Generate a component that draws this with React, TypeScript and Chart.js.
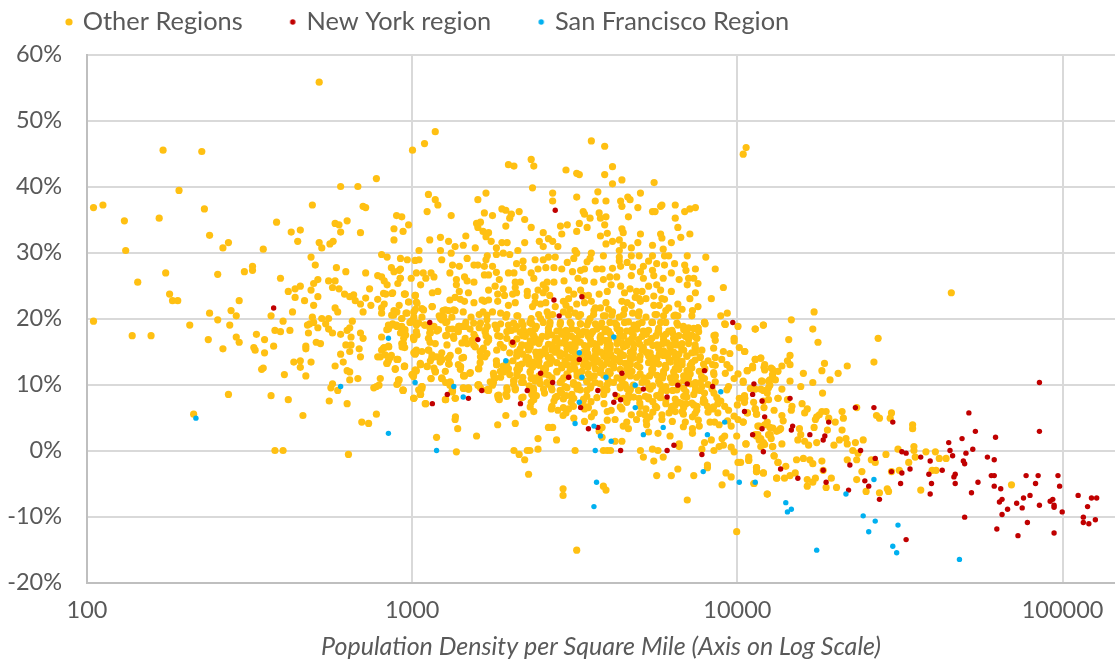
import React, { useEffect, useRef } from "react";
import { Chart, registerables } from "chart.js";

Chart.register(...registerables);

// every pair: [log10 of population density per square mile, percent change]
const otherRegions: number[][] = [
[2.714,55.8],[2.234,45.5],[2.353,45.3],[2.283,39.4],[2.02,36.8],[2.049,37.2],[2.115,34.8],[2.222,35.2],[2.361,36.6],[2.119,30.3],[2.377,32.6],[2.418,30.7],[2.435,31.5],[2.542,30.5],[2.583,34.6],[2.628,33.1],[2.656,33.4],[2.648,31.7],[2.693,37.2],[2.78,40],[2.833,40],[2.89,41.2],[2.849,37],[2.857,36.8],[2.952,35.6],[2.763,34.4],[2.775,34.2],[2.8,34.8],[2.78,33.1],[2.841,33],[2.944,33.6],[2.944,31.9],[2.714,31.5],[2.722,30.7],[2.747,31.3],[2.757,31.7],[2.689,29.3],[2.702,28.1],[2.906,29.7],[2.923,29.3],[2.964,29.1],[2.156,25.5],[2.242,26.9],[2.254,23.7],[2.263,22.7],[2.279,22.7],[2.402,26.7],[2.484,27.1],[2.509,27.9],[2.509,27.3],[2.595,26.1],[2.468,22.7],[2.619,24.1],[2.64,24.5],[2.656,24.9],[2.64,23.2],[2.669,22.7],[2.689,24.3],[2.697,25.3],[2.71,25.9],[2.71,23.3],[2.743,25.7],[2.763,25.7],[2.755,24.7],[2.775,24.5],[2.767,27.7],[2.796,27.1],[2.792,23.7],[2.808,23.3],[2.82,23.6],[2.857,26.9],[2.869,24.5],[2.857,23.1],[2.894,26.5],[2.906,26.3],[2.914,25.7],[2.923,25.1],[2.894,22.9],[2.919,23.7],[2.94,23.9],[2.936,27.7],[2.944,27.1],[2.96,27.3],[2.956,25.3],[2.963,26.1],
[2.02,19.6],[2.139,17.4],[2.197,17.4],[2.316,19],[2.377,20.8],[2.402,19.8],[2.443,21.2],[2.459,20.4],[2.439,19],[2.373,16.8],[2.459,17.2],[2.468,16.4],[2.418,15.4],[2.513,15.6],[2.517,15.2],[2.521,17.6],[2.546,16.8],[2.546,14.8],[2.537,12.3],[2.542,12.5],[2.566,20.4],[2.603,19.6],[2.578,18.2],[2.595,18],[2.624,18.2],[2.632,21],[2.574,15.8],[2.607,11.5],[2.636,13.4],[2.656,13.6],[2.656,12.6],[2.689,13.4],[2.673,11.3],[2.673,15.8],[2.673,15.4],[2.705,16.4],[2.718,16.2],[2.678,19],[2.685,19.2],[2.693,20.2],[2.697,19.4],[2.71,18.6],[2.681,17.8],[2.697,22],[2.763,21.6],[2.771,21],[2.722,20],[2.743,20],[2.734,19.2],[2.743,18.4],[2.755,17.8],[2.78,17.6],[2.8,18.2],[2.808,18.6],[2.816,19.6],[2.812,17.2],[2.841,17.8],[2.849,17],[2.796,16],[2.812,16],[2.808,15],[2.78,14.6],[2.788,13.4],[2.763,12.8],[2.8,12.1],[2.808,11.9],[2.808,10.7],[2.833,10.9],[2.837,15.4],[2.841,14.2],[2.902,10.9],[2.882,9.5],[2.89,9.7],[2.898,9.9],[2.755,10.1],[2.75,9.5],[2.771,9.1],[2.435,8.5],[2.566,8.3],[2.619,7.7],[2.745,7.5],[2.8,7.1],[2.664,5.3],[2.845,4.3],[2.866,4.1],[2.89,5.5],[2.328,5.5],[2.578,0],[2.603,0],[2.804,-0.6],
[2.906,17.2],[2.906,15.2],[2.914,15.6],[2.927,15.8],[2.894,14.2],[2.902,14.2],[2.936,14.4],[2.931,14],[2.923,13.2],[2.927,13.6],[2.956,13.8],[2.948,12.3],[2.977,12.8],[2.96,10.7],[2.956,10.1],[2.972,9.1],[3.005,7.9],[2.927,19],[2.927,18.4],[2.94,19.2],[2.952,19],[2.968,18.8],[2.977,18],[2.964,17.8],[2.968,16.2],[2.977,15.6],[3.005,16.8],[3.005,14.8],[3.013,15.2],[3,11.5],[3.013,12.1],[2.944,21.2],[2.937,20.5],[2.96,22],[2.906,20.8],[2.914,22.2],[2.906,21.6],[2.873,22],[2.849,21],[2.841,22.2],[2.825,22.7],[2.968,20],[2.981,20.8],[2.993,19.4],[3.005,21],[2.989,22.5],[2.977,23.7],[3.01,23.5],[3.014,19.3],
[3.071,48.3],[3.038,46.5],[3.001,45.5],[3.551,46.9],[3.592,46.1],[4.027,45.9],[4.018,44.9],[3.366,44.1],[3.374,43.1],[3.296,43.3],[3.313,43.1],[3.473,42.5],[3.506,42],[3.514,41.8],[3.616,43],[3.592,41.8],[3.645,41],[3.616,40.4],[3.744,40.6],[3.37,39.8],[3.432,39],[3.432,37.8],[3.506,38.4],[3.571,39.2],[3.563,37.8],[3.596,37.8],[3.641,37.8],[3.663,38.4],[3.67,38],[3.645,37],[3.702,39],[3.694,36.8],[3.739,36.2],[3.747,36.2],[3.764,37],[3.768,37.2],[3.809,37.2],[3.838,36.2],[3.854,36.6],[3.871,36.8],[3.809,35.2],[3.05,38.8],[3.071,38],[3.079,37.2],[3.046,36.2],[3.227,39],[3.202,38],[3.12,35.6],[3.222,36],[3.247,35.6],[3.276,36.6],[3.288,36.4],[3.329,36.2],[3.305,35.8],[3.3,35.2],[3.346,35],[2.989,34.2],[2.968,35.4],[2.972,33.2],[3.198,34.4],[3.21,34.6],[3.202,33.8],[3.218,33.2],[3.235,33],[3.227,32.4],[3.288,34],[3.366,33.8],[3.403,33],[3.456,34],[3.477,34.2],[3.46,32.8],[3.514,34.4],[3.538,33.8],[3.506,33.2],[3.526,36.2],[3.53,35.8],[3.547,35.2],[3.575,36],[3.579,35.2],[3.596,35.4],[3.592,34.2],[3.665,35.4],[3.645,33.6],[3.649,33],[3.702,32.8],[3.764,32.8],[3.768,32.2],[3.817,33.8],[3.826,32.3],[3.854,32.8],[3.797,31.5],[3.087,32.3],[3.112,31.7],[3.054,31.9],[3.165,32.5],[3.132,30.9],[3.157,31.1],[3.194,30.7],[3.243,31.7],[3.021,30.3],[3.087,30.3],[3.12,29.9],[3.276,31.5],[3.292,31.5],[3.259,30.7],[3.346,31.5],[3.391,31.7],[3.419,32.1],[3.432,31.7],[3.403,30.9],[3.448,30.9],[3.579,32.5],[3.6,32.9],[3.596,31.3],[3.616,31.7],[3.637,31.9],[3.649,31.1],[3.694,31.5],[3.739,31.1],[3.772,30.5],[3.674,30.7],[3.501,30.3],[3.551,29.9],[3.637,30.3],[3.259,29.7],[3.28,29.9],[3.325,30.3],[3.3,29.7],[3.231,29.5],[3.169,29.1],[3.091,28.9],[2.985,28.9],[3.009,28.8],[3.021,28.9],[3.378,28.9],[3.403,28.9],[3.419,29.3],[3.44,29.3],[3.506,29.9],[3.497,29.1],[3.588,29.5],[3.547,29.1],[3.538,28.6],[3.477,28.5],[3.637,29.3],[3.674,29.5],[3.698,29.5],[3.739,29.5],[3.776,29.5],[3.789,29.5],[3.846,29.5],[3.903,29.3],[3.727,28.7],[3.752,28.3],[3.807,28.3],[3.838,28.1],[3.776,28.1],[3.637,28.7],[3.932,27.5],[3.871,27.5],[3.842,27.3],[3.797,26.9],[3.739,27.3],[3.711,27.9],[3.702,27.1],[3.678,27.8],[3.661,28.5],[3.641,27.9],[3.616,27.6],[3.584,27.5],[3.567,27.5],[3.53,27.5],[3.518,27.3],[3.493,27.1],[3.46,27.5],[3.436,27.7],[3.411,27.7],[3.387,27.5],[3.341,28.7],[3.321,28.3],[3.341,27.7],[3.247,27.9],[3.222,27.9],[3.202,28.1],[3.19,28.1],[3.145,27.9],[3.124,28.1],[3.227,28.9],[3.116,26.9],[3.058,26.9],[3.034,26.9],[3.013,26.9],[2.997,26.1],[3.042,26.1],[3.067,26.3],[2.964,27.5],
[3.161,26.3],[3.19,25.5],[3.136,25.9],[3.169,25.7],[3.222,26.6],[3.235,26.6],[3.259,27],[3.268,25.9],[3.296,26.9],[3.313,26.9],[3.366,26.9],[3.374,26.1],[3.317,25.5],[3.333,25.5],[3.026,25.1],[3.136,25.1],[2.964,26.1],[3.588,25.9],[3.608,26.3],[3.629,26.3],[3.674,26.5],[3.711,26.1],[3.743,26.5],[3.772,26.1],[3.821,25.9],[3.85,26.1],[3.866,26.1],[3.879,25.3],[3.846,25.1],[3.559,25.5],[3.51,26.1],[3.53,25.7],[3.415,25.5],[3.436,25.5],[3.467,25.7],[3.403,25.1],[2.976,23.7],[3.062,23.9],[3.079,24.1],[3.145,24.1],[3.173,23.9],[3.235,24.3],[3.255,24.9],[3.28,24.5],[3.317,24.7],[3.354,24.1],[3.387,24.3],[3.411,24.5],[3.481,24.3],[3.518,24.3],[3.575,23.7],[3.6,24.1],[3.612,25.1],[3.641,24.9],[3.653,23.9],[3.67,24.5],[3.69,24.1],[3.707,24.1],[3.727,24.9],[3.752,25.1],[3.764,24.3],[3.797,24.1],[3.871,23.9],[3.957,24.7],[3.92,23],[3.854,23],[3.768,23],[3.743,23.4],[3.698,23],
[3.009,23.5],[3.013,22.5],[2.989,22.5],[3.03,21.5],[3.062,21.8],[3.116,22.8],[3.132,23.2],[3.161,22.6],[3.19,22.4],[3.222,22.6],[3.235,22.8],[3.263,23.7],[3.263,22.6],[3.284,23.5],[3.309,23.7],[3.321,23.9],[3.296,22],[3.317,22.4],[3.354,23.5],[3.378,23.3],[3.378,22.4],[3.37,21.8],[3.403,23.9],[3.423,23.5],[3.395,22.2],[3.411,22.4],[3.44,21.8],[3.465,22.6],[3.481,23],[3.497,23.7],[3.506,22.2],[3.473,22],[3.485,21.4],[3.526,23.5],[3.542,23.5],[3.551,22.6],[3.53,22.4],[3.596,22.4],[3.563,21.6],[3.579,21.6],[3.604,21.4],[3.645,22.6],[3.661,22.4],[3.674,22],[3.653,21.4],[3.686,23.2],[3.702,22.6],[3.719,23],[3.743,22],[3.76,22],[3.789,21.6],[3.776,22.9],[3.817,22.2],[3.83,21.4],[3.862,21.2],[3.879,21.8],[3.949,20.4],[3.969,20.8],[3.961,19.2],[3.899,19.4],[3.879,18.6],[4.002,18.8],[4.055,18.4],[4.08,19],
[3.095,21.2],[3.112,21.2],[3.132,21.2],[3.157,21],[3.181,20.2],[3.206,20.6],[3.218,21],[3.247,21],[3.272,20.8],[3.288,20.2],[3.325,20.4],[3.366,20],[3.395,20],[3.415,21],[3.432,20.6],[3.465,21],[3.501,20.8],[3.518,20.6],[3.547,20],[3.559,21.2],[3.588,20.4],[3.616,21],[3.637,20.2],[3.678,20.8],[3.698,21],[3.719,20.2],[3.752,20.6],[3.78,21.2],[3.805,20.4],[3.817,20.4],[3.083,20.4],[3.03,20.2],[3.005,20.2],[2.997,19.6],[2.968,20],[3.091,19.8],[3.103,19.4],[3.038,19],[3.013,19],[3.067,18.8],[3.145,18.8],[3.124,18.4],[3.165,19.4],[3.206,18.6],[3.231,18.8],[3.255,19],[3.272,19.2],[3.296,19],[3.321,18.8],[3.341,19],[3.362,19.4],[3.382,18.8],[3.403,19.4],[3.423,19],[3.456,19.4],[3.489,19.2],[3.518,19.2],[3.538,19],[3.563,19.2],[3.579,18.8],[3.608,19.4],[3.629,19],[3.653,19.4],[3.682,19],[3.707,19.4],[3.739,19.4],[3.764,19.4],[3.78,19.4],[3.817,19],[3.834,18.8],[3.85,18.6],[2.98,17.5],[3.013,18],[3.054,17.8],[3.103,17.4],[3.14,18.2],[3.155,18.8],[3.19,17.6],[3.227,17.4],[3.263,17.4],[3.305,18.2],[3.35,17.8],[3.374,17.4],[3.419,18],[3.473,18.2],[3.514,17.8],[3.555,18],[3.596,18.4],[3.637,18],[3.674,18.2],[3.715,18],[3.756,18],[3.801,17.8],[3.842,17.4],[3.871,17.2],[3.932,17.5],[3.99,17],
[2.976,12.7],[3.009,14.6],[3.026,13],[3.046,12.7],[3.005,11.6],[3.058,10.9],[3.091,10.9],[3.071,11.9],[3.103,10.3],[3.116,9.9],[3.149,12.7],[3.161,11.3],[3.177,11.7],[3.204,12.4],[3.114,13.1],[3.112,14],[3.087,13.8],[3.153,14],[3.06,14],[2.972,9.1],[3.005,7.9],[3.026,8.5],[3.03,9.7],[3.124,8.9],[3.103,7.7],[3.132,7.9],[3.042,7.1],[3.157,9.5],[3.173,9.3],[3.202,9.9],[3.235,9.1],[3.247,9.9],[3.21,9.5],[3.292,9.1],[3.263,8.3],[3.268,7.7],[3.288,8.5],[3.317,9.3],[3.341,8.1],[3.366,7.3],[3.374,7.7],[3.382,8.3],[3.407,8.7],[3.428,9.5],[3.251,11.3],[3.272,11.1],[3.259,13.6],[3.28,12.8],[3.296,12.4],[3.3,11.5],[3.325,12.1],[3.313,10.5],[3.337,10.3],[3.366,10.9],[3.391,10.7],[3.067,12.5],[3.132,4.7],[3.14,3.3],[3.075,2],[3.198,2.2],[3.136,-0.2],[3.288,5.3],[3.263,3.9],[3.317,4.1],[3.341,5.5],[3.374,5.9],[3.428,6.3],[3.448,6.1],[3.419,3.5],[3.432,3.5],[3.387,1.8],[3.444,1.6],[3.313,0],[3.329,-0.6],[3.354,0],[3.362,0],[3.387,0.2],[3.346,-1.4],[3.358,-3.6],[3.464,-5.8],[3.464,-6.8],[3.501,0],[3.506,-15.1],[3.998,-12.3],
[3.436,7.5],[3.444,8.1],[3.46,8.7],[3.473,8.3],[3.489,7.3],[3.497,7.9],[3.464,5.3],[3.473,5.7],[3.481,6.3],[3.497,4.9],[3.526,7.5],[3.53,6.3],[3.542,6.5],[3.551,5.1],[3.584,3.5],[3.575,2.9],[3.584,2],[3.624,4.7],[3.612,6.1],[3.649,3.7],[3.665,3.3],[3.674,5.4],[3.69,4.7],[3.624,1.4],[3.645,1.4],[3.588,0],[3.6,0],[3.61,0],[3.588,-5.4],[3.596,-6],[3.702,0],[3.711,-1],[3.739,0.2],[3.756,0],[3.752,-3.8],[3.743,-1.6],[3.772,-1],[3.797,-3.8],[3.817,-2.8],[3.866,-3.8],[3.846,-7.5],[3.793,2.2],[3.756,2.6],[3.727,2.8],[3.721,3.9],[3.821,1],[3.821,0.6],[3.891,0.2],[3.899,1.2],[3.92,1.6],[3.928,0],[3.953,1.8],[3.961,2.2],[3.944,0.6],[3.957,0.8],[3.981,0.5],[3.99,-0.2],[4.027,1],[4.002,-1.8],[3.908,-2.2],[3.908,-2.6],[3.965,-3.4],[3.981,-4],[3.953,-5.2],[4.035,-1],[4.035,-1.4],[4.059,-2.6],[4.059,-3.2],[4.08,-3.4],[4.051,-5],[4.092,-6.6],[4.121,-4.2],[4.113,-0.8],[4.125,-1.8],[4.109,0.6],
[3.665,7.9],[3.645,6.3],[3.698,7.9],[3.719,6.3],[3.748,6.7],[3.715,5.4],[3.731,5.1],[3.768,5.4],[3.768,4.7],[3.809,5.9],[3.84,4.3],[3.834,3.6],[3.862,3.3],[3.862,2.6],[3.883,3.7],[3.916,4.3],[3.944,3.9],[3.981,3.7],[3.998,2.2],[4.002,4.7],[4.018,4.3],[3.973,6.1],[3.949,7.5],[3.961,6.7],[3.924,6.3],[4.006,7.9],[4.031,5.7],[4.023,7.9],[4.055,6.3],[4.059,5.5],[4.067,3.7],[4.082,6.5],[4.092,4.3],[4.109,3.4],[4.125,7.9],[4.096,9.5],[4.08,7.5],[4.055,2.4],[4.067,1.6],[4.084,0.9],[4.129,3.1],[4.101,2.4],[3.809,6.9],[3.83,7.1],[3.842,7.1],[3.866,6.9],[3.895,7.3],[3.908,6.7],[3.875,6.1],[3.862,5.1],[3.834,5.5],[3.797,6.3],[3.78,7.7],[3.752,8.3],[3.727,8.1],[3.768,9.1],[3.801,9.1],[3.842,8.9],[3.871,9.1],[3.891,9.7],[3.899,8.7],[3.928,8.7],[3.973,9.7],[4.018,10.3],[4.074,10.5],[4.096,10.5],[4.109,11.1],[4.031,12.1],[4.047,12.5],[4.084,13],[4.104,12.5],[4.125,12],[4.055,13.8],[4.072,14],[4.002,11.6],[3.977,12.5],[3.952,13.8],[3.924,13],[3.883,12],[3.899,10.9],[3.871,10.3],[3.928,11.5],[3.957,15],[3.977,14.7],[4.006,15.6],[4.023,15],[3.891,15.2],[3.871,15.4],[3.99,16.6],[3.928,17.4],[3.879,18.6],[3.899,19.4],
[4.658,23.9],[4.166,19.8],[4.236,21],[4.055,18.4],[4.08,19],[4.232,18.4],[4.158,16.8],[4.248,16.4],[4.433,17],[4.42,13.4],[4.268,13.2],[4.26,12.1],[4.338,12.8],[4.31,11.7],[4.285,10.7],[4.203,11.7],[4.162,14.4],[4.154,13.6],[4.162,13],[4.137,12.8],[4.055,13.8],[4.072,14],[4.047,12.8],[4.03,12.1],[4.082,12.6],[4.084,12.2],[4.108,12.3],[4.108,11.5],[4.1,10.7],[4.117,10.7],[4.076,10.5],[4.1,9.9],[4.162,10.5],[4.232,10.3],[4.195,9.7],[4.137,9.3],[4.018,10.5],[4.022,15],[4.072,9.3],[4.055,9.3],[4.08,9.1],[4.092,8.7],[4.262,8.7],[4.096,7.7],[4.125,7.9],[4.154,7.7],[4.199,7.1],[4.168,6.7],[4.166,6.1],[4.215,6.3],[4.207,5.7],[4.113,6.1],[4.055,6.3],[4.059,5.5],[4.031,5.7],[4.022,8.3],[4.022,7.3],[4.137,5.3],[4.141,4.5],[4.018,4.3],[4.063,3.7],[4.084,3.9],[4.1,3.5],[4.121,2.9],[4.133,3.3],[4.191,3.3],[4.236,3.5],[4.277,3.1],[4.322,3.1],[4.301,4.3],[4.326,4.9],[4.322,5.9],[4.26,5.9],[4.273,5.9],[4.244,5.1],[4.24,4.7],[4.252,5.4],[4.281,4.9],[4.367,6.5],[4.428,5.3],[4.437,4.9],[4.474,5.7],[4.47,4.9],[4.539,3.9],[4.539,3.3],
[4.063,2.4],[4.096,2.4],[4.104,1.8],[4.026,1],[4.059,2.2],[4.072,1.8],[4.08,1.2],[4.072,0.6],[4.108,0.6],[4.137,1],[4.186,1.6],[4.195,2.4],[4.207,1.4],[4.219,0.8],[4.244,1.2],[4.297,0.8],[4.314,1.6],[4.334,1.8],[4.338,1],[4.363,1.2],[4.387,1.6],[4.355,0],[4.371,-0.4],[4.367,-1.4],[4.338,-1.4],[4.035,-1.5],[4.113,-0.8],[4.125,-1.8],[4.149,-2.4],[4.182,-1.4],[4.203,-1.2],[4.223,-1.4],[4.232,-2],[4.26,-1.6],[4.412,-1.4],[4.424,-1.8],[4.457,-0.6],[4.494,0.2],[4.543,0.6],[4.543,0],[4.547,-1],[4.58,-0.2],[4.609,-0.2],[4.621,-1.2],[4.642,-1.2],[4.527,-1.8],[4.498,-3],[4.474,-3.2],[4.383,-3.2],[4.599,-3],[4.611,-3],[4.564,-6],[4.843,-5.2],[4.059,-2.6],[4.059,-3.2],[4.08,-3.4],[4.051,-5],[4.092,-6.6],[4.121,-4.2],[4.145,-4.2],[4.162,-3.8],[4.178,-3.4],[4.215,-4.4],[4.215,-5.4],[4.232,-4.8],[4.24,-4.2],[4.273,-5.6],[4.289,-4.2],[4.305,-5.6],[4.367,-4.4],[4.396,-6.2],[4.437,-6.4],[4.461,-5.8],[4.465,-6.2],[4.264,-3],[4.01,-1.8],
[2.978,18.3],[3.055,18.5],[3.076,18.1],[3.112,18.4],[3.142,18],[3.178,18.4],[3.225,18.2],[3.26,18.4],[3.291,18],[3.317,18.4],[3.342,18.2],[3.378,18.4],[3.419,18.5],[3.455,18.1],[3.491,18.4],[3.527,18],[3.568,18.4],[3.604,18.1],[3.63,18.5],[3.66,18.1],[3.691,18.4],[3.727,18.2],[3.758,18.5],[3.789,18.1],[3.835,18.3],[3.866,18.5],
[3.004,17.2],[3.05,17],[3.127,17.3],[3.163,17],[3.194,17.2],[3.235,17],[3.271,17.3],[3.291,17],[3.348,17.3],[3.378,17],[3.414,17.3],[3.445,17],[3.476,17.3],[3.507,17],[3.542,17.3],[3.578,17.1],[3.64,17.3],[3.676,17],[3.707,17.3],[3.737,17],[3.773,17.3],[3.804,17],[3.84,17.3],[3.876,17],
[2.973,16.2],[3.055,16.4],[3.107,16],[3.153,16.3],[3.189,16],[3.23,16.4],[3.271,16.1],[3.307,16.3],[3.337,16],[3.373,16.4],[3.419,16.1],[3.455,16.3],[3.486,16],[3.517,16.4],[3.548,16.1],[3.578,16.4],[3.609,16],[3.645,16.3],[3.681,16.1],[3.722,16.4],[3.753,16],[3.784,16.3],[3.814,16],[3.85,16.2],
[3.009,15],[3.05,15.2],[3.091,14.8],[3.142,15.1],[3.209,15],[3.26,15.2],[3.322,14.9],[3.358,15.2],[3.394,14.9],[3.43,15.2],[3.455,14.8],[3.491,15.1],[3.527,14.9],[3.563,15.2],[3.599,14.8],[3.63,15.1],[3.671,14.9],[3.707,15.2],[3.732,14.8],[3.773,15.1],[3.804,14.9],[3.835,15.2],[3.871,14.9],
[3.066,14.2],[3.117,14.4],[3.158,14.1],[3.322,14.3],[3.358,14],[3.394,14.4],[3.425,14.1],[3.455,14.3],[3.486,14],[3.517,14.4],[3.553,14],[3.589,14.3],[3.619,14],[3.65,14.4],[3.681,14],[3.727,14.3],[3.753,14],[3.784,14.4],[3.814,14],[3.845,14.3],[3.886,14.1],
[3.025,13.2],[3.086,13.4],[3.142,13],[3.209,13.3],[3.26,13],[3.291,13.3],[3.337,13.1],[3.373,13.4],[3.414,13],[3.445,13.3],[3.476,13],[3.507,13.4],[3.542,13],[3.578,13.3],[3.609,13.1],[3.64,13.4],[3.671,13],[3.727,13.3],[3.758,13.1],[3.794,13.4],[3.83,13],[3.86,13.3],
[3.009,12.2],[3.071,12],[3.148,12.3],[3.271,12],[3.322,12.3],[3.363,12],[3.404,12.4],[3.445,12],[3.486,12.3],[3.522,12],[3.563,12.4],[3.604,12],[3.64,12.3],[3.676,12],[3.737,12.3],[3.773,12],[3.809,12.4],[3.845,12.1],
[3.004,11.2],[3.091,11],[3.158,11.3],[3.255,11],[3.322,11.3],[3.373,11],[3.419,11.4],[3.466,11],[3.507,11.3],[3.548,11],[3.589,11.4],[3.63,11],[3.671,11.3],[3.712,11],[3.753,11.4],[3.794,11],[3.835,11.3],
[3.117,10.2],[3.204,10],[3.25,10.3],[3.312,10],[3.337,10.4],[3.394,10.1],[3.455,10.3],[3.496,10],[3.537,10.4],[3.578,10.1],[3.619,10.3],[3.655,10],[3.707,10.3],[3.763,10],[3.814,10.3],[3.855,10.1],
[3.03,9.4],[3.124,9.2],[3.173,9.5],[3.235,9.3],[3.291,9.5],[3.317,9.2],[3.373,9.4],[3.43,9.2],[3.476,9.5],[3.517,9.2],[3.548,9.5],[3.599,9.2],[3.64,9.5],[3.671,9.2],[3.727,9.5],[3.814,9.2],
[3.266,8.4],[3.291,8.2],[3.368,8.5],[3.445,8.2],[3.491,8.5],[3.537,8.2],[3.589,8.5],[3.63,8.2],[3.666,8.5],[3.717,8.2],[3.763,8.5],[3.835,8.2],[3.866,8.5],
];

// the dense core of the cloud
const otherRegionsCore: number[][] = [
[3.23,20.5],[3.291,20.6],[3.322,20.4],[3.389,20.6],[3.419,20.4],[3.481,20.5],[3.512,20.3],[3.558,20.6],[3.594,20.4],[3.312,19.3],[3.337,19.5],[3.368,19.2],[3.424,19.4],[3.455,19.1],[3.486,19.4],[3.517,19.2],[3.542,19.5],[3.583,19.3],[3.224,18],[3.301,18.2],[3.332,17.9],[3.363,18.1],[3.419,17.8],[3.445,18.1],[3.476,17.9],[3.507,18.2],[3.537,17.9],[3.599,18],[3.235,16.7],[3.322,16.9],[3.363,16.6],[3.394,16.8],[3.44,16.6],[3.471,16.8],[3.501,16.6],[3.548,16.8],[3.604,16.7],[3.219,15.5],[3.281,15.6],[3.332,15.4],[3.363,15.7],[3.409,15.4],[3.445,15.6],[3.476,15.4],[3.501,15.7],[3.537,15.4],[3.568,15.6],[3.599,15.4],[3.224,14.2],[3.322,14.4],[3.353,14.1],[3.383,14.3],[3.419,14.1],[3.455,14.4],[3.481,14.1],[3.507,14.3],[3.537,14.1],[3.563,14.4],[3.594,14.2],[3.26,13],[3.291,13.2],[3.327,12.9],[3.358,13.1],[3.389,12.9],[3.424,13.2],[3.46,12.9],[3.496,13.1],[3.527,12.9],[3.558,13.2],[3.589,12.9],[3.25,11.7],[3.281,11.9],[3.322,11.6],[3.363,11.8],[3.404,11.6],[3.445,11.9],[3.476,11.6],[3.507,11.8],[3.542,11.6],[3.578,11.8],[3.24,10.4],[3.312,10.6],[3.342,10.3],[3.378,10.5],[3.414,10.3],[3.46,10.6],[3.496,10.3],[3.537,10.5],[3.563,10.3],[3.604,10.5],[3.235,9.2],[3.317,9.4],[3.373,9.1],[3.404,9.3],[3.455,9.1],[3.507,9.3],[3.537,9.1],[3.589,9.3],[3.265,7.9],[3.337,8],[3.373,7.8],[3.44,8],[3.465,7.8],[3.491,8],[3.527,7.8],[3.568,8],[3.363,6.6],[3.43,6.7],[3.465,6.5],[3.496,6.7],[3.537,6.6],
[3.614,20.5],[3.65,20.6],[3.696,20.4],[3.747,20.6],[3.773,20.4],[3.809,20.5],[3.86,20.4],[3.624,19.3],[3.665,19.5],[3.696,19.2],[3.737,19.4],[3.814,19.3],[3.901,19.2],[3.963,19.1],[3.593,18],[3.64,18.2],[3.675,17.9],[3.711,18.1],[3.758,17.9],[3.799,18.2],[3.845,17.9],[3.881,18],[3.593,16.7],[3.629,16.9],[3.665,16.6],[3.696,16.8],[3.732,16.6],[3.773,16.8],[3.809,16.6],[3.85,16.8],[3.932,16.7],[3.609,15.5],[3.65,15.7],[3.681,15.4],[3.711,15.6],[3.758,15.4],[3.793,15.7],[3.829,15.4],[3.87,15.6],[3.927,15.5],[3.599,14.2],[3.64,14.4],[3.67,14.1],[3.701,14.3],[3.737,14.1],[3.773,14.4],[3.809,14.1],[3.845,14.3],[3.886,14.2],[3.932,14.1],[3.619,13],[3.655,13.2],[3.691,12.9],[3.742,13.1],[3.778,12.9],[3.814,13.2],[3.855,12.9],[3.896,13.1],[3.932,12.9],[3.968,13],[3.609,11.7],[3.665,11.9],[3.701,11.6],[3.737,11.8],[3.773,11.6],[3.804,11.9],[3.855,11.6],[3.927,11.8],[3.963,11.7],[3.604,10.4],[3.645,10.6],[3.722,10.3],[3.758,10.5],[3.799,10.3],[3.835,10.6],[3.886,10.3],[3.932,10.4],[3.593,9.2],[3.66,9.4],[3.696,9.1],[3.732,9.3],[3.783,9.1],[3.835,9.4],[3.886,9.1],[3.922,9.3],[3.968,9.2],[3.65,7.9],[3.681,8.1],[3.727,7.8],[3.763,8],[3.809,7.8],[3.845,8.1],[3.896,7.8],[3.937,8],[3.64,6.6],[3.701,6.7],[3.752,6.5],[3.799,6.7],[3.835,6.5],[3.876,6.7],[3.927,6.6],
];

const otherRegionsLeft: number[][] = [
[2.922,18.3],[2.938,19],[2.953,18.8],[2.969,18],[2.974,17],[2.969,15.7],[3.005,17],[3.015,17.5],[3,19.5],[3.02,19.3],[3.04,19],[3.056,17.8],[3.081,18.3],[3.087,20],[3.107,19.5],[3.122,20.2],[3.143,18.8],[3.164,18.8],[3.189,19.3],[3.21,19.3],[3.23,19.8],[3.107,17.5],[3.128,17],[3.169,16.2],[3.194,15.7],[3.215,15.2],[3.184,16.7],[3.23,14.7],[3.21,14.2],[2.912,15.5],[2.928,15.7],[2.917,14.5],[2.928,14],[2.922,13.2],[2.948,12.4],[2.953,13.8],[2.976,12.8],[3.01,14.7],[3.03,15],[3.051,15.2],[3.071,16.2],[3.061,14.5],[3.076,14.2],[3.092,13.8],[3.112,14],[3.112,13.1],[3.056,13.6],[3.025,13],[3.01,12.2],[3,11.5],[3.046,12.8],[3.071,12],[3.102,12],[3.148,12.7],[3.158,11.4],[3.179,11.8],[3.205,12.4],[3.058,10.9],[3.092,10.9],[3.117,10.4],[2.958,10.7],[2.953,10],[3.03,9.7],[3.02,9.2],[2.972,9.2],[3.005,7.9],[3.025,8.5],[3.04,7.1],[3.102,7.7],[3.133,7.9],[3.122,8.9],[3.174,9.3],[3.158,9.4],[3.205,9.9],[3.23,9.2],[3.133,5.1],[2.912,23.8],[2.938,23.8],[2.979,23.7],[3.015,22.3],[3.01,21.4],[2.984,20.8],[2.953,21],[2.943,20.5],[3.035,21.3],[3.061,21.8],[3.102,21.3],[3.128,21.3],[3.097,20.3],[3.215,22.8],[3.148,22.9],
];

// further estimates where the cloud reads as solid in the reference
const otherRegionsSolid: number[][] = [
[3.34,17.4],[3.37,17.6],[3.4,17.3],[3.43,17.5],[3.46,17.6],[3.49,17.3],[3.52,17.5],[3.55,17.6],[3.58,17.4],[3.61,17.6],[3.65,17.3],[3.68,17.5],[3.72,17.6],[3.75,17.4],[3.78,17.6],[3.82,17.4],[3.86,17.5],
[3.31,16.1],[3.35,15.9],[3.39,16.2],[3.43,16],[3.47,16.2],[3.5,16],[3.53,15.9],[3.56,16.2],[3.6,16],[3.63,16.2],[3.66,15.9],[3.7,16.1],[3.74,15.9],[3.77,16.2],[3.8,16],[3.83,16.2],[3.87,16],
[3.3,14.8],[3.34,14.6],[3.38,14.9],[3.41,14.7],[3.44,14.9],[3.47,14.6],[3.5,14.8],[3.54,14.7],[3.58,14.9],[3.61,14.6],[3.64,14.8],[3.68,14.7],[3.72,14.9],[3.76,14.6],[3.79,14.8],[3.82,14.6],[3.86,14.8],
[3.31,13.6],[3.35,13.8],[3.39,13.5],[3.43,13.7],[3.47,13.6],[3.5,13.8],[3.53,13.5],[3.57,13.7],[3.6,13.6],[3.63,13.8],[3.67,13.5],[3.7,13.7],[3.75,13.6],[3.79,13.8],[3.83,13.5],[3.87,13.7],[3.91,13.6],
[3.33,12.4],[3.37,12.6],[3.41,12.3],[3.46,12.5],[3.5,12.4],[3.54,12.6],[3.58,12.3],[3.62,12.5],[3.66,12.4],[3.7,12.6],[3.74,12.3],[3.78,12.5],[3.82,12.3],[3.86,12.5],[3.9,12.4],
[3.34,11.1],[3.39,11.3],[3.43,11],[3.48,11.2],[3.52,11.1],[3.56,11.3],[3.6,11],[3.65,11.2],[3.69,11.1],[3.73,11.3],[3.77,11],[3.81,11.2],[3.85,11],[3.89,11.2],
[3.36,9.8],[3.42,10],[3.47,9.7],[3.51,9.9],[3.55,9.8],[3.6,10],[3.64,9.7],[3.68,9.9],[3.74,9.8],[3.78,9.7],[3.82,9.9],[3.87,9.8],[3.91,10],
[3.52,7.2],[3.55,7.4],[3.59,7.1],[3.66,7.3],[3.7,7.2],[3.74,7.4],[3.78,7.1],[3.82,7.3],[3.86,7.2],[3.9,7.4],[3.94,7.1],
[3.56,5.7],[3.6,5.9],[3.7,5.6],[3.74,5.8],[3.79,5.7],[3.83,5.9],[3.87,5.6],[3.91,5.8],[3.94,5.7],
[3.53,4.4],[3.6,4.6],[3.66,4.3],[3.72,4.5],[3.8,4.4],[3.88,4.6],[3.93,4.3],[3.97,4.5],
[3.99,10.9],[4.04,9.4],[4,6.9],[3.99,5.2],[4.05,7.3],
];

const newYorkRegion: number[][] = [
[4.929,10.3],[4.929,2.9],[4.712,5.7],[4.732,2.9],[4.794,2],[4.691,1.8],[4.65,1.2],[4.654,0],[4.724,0.2],[4.703,-0.4],[4.662,-0.8],[4.769,-1],[4.79,-1.4],[4.695,-1.6],[4.699,-2],[4.63,-3],[4.67,-3.6],[4.666,-4],[4.67,-5],[4.74,-4.8],[4.72,-6.4],[4.699,-10.1],[4.593,-1.6],[4.564,-1],[4.506,-0.2],[4.519,-0.4],[4.531,-2.8],[4.506,-3.4],[4.474,-3.2],[4.502,-5],[4.589,-3.6],[4.597,-5],[4.593,-6.6],[4.519,-13.5],[4.781,-3.8],[4.79,-3.8],[4.79,-5.4],[4.81,-5.8],[4.814,-7.4],[4.806,-7.8],[4.831,-8.9],[4.814,-9.7],[4.798,-11.9],[4.859,-8],[4.876,-8.7],[4.88,-7.2],[4.9,-6.8],[4.888,-3.8],[4.925,-3.8],[4.917,-5],[4.929,-8.3],[4.892,-10.9],[4.863,-12.9],[4.986,-3.8],[4.991,-5.4],[4.962,-7.7],[4.97,-7.4],[4.974,-8.3],[4.974,-8.6],[4.999,-9.3],[4.974,-12.5],[5.048,-6.8],[5.089,-7.2],[5.105,-7.2],[5.077,-8.5],[5.064,-10.1],[5.064,-10.9],[5.081,-11.1],[5.101,-10.5],
[4.051,10.1],[4.047,8.5],[4.076,7.5],[4.022,5.9],[4.084,5.1],[4.076,3.3],[4.047,2.4],[4.08,-0.2],[4.162,7.9],[4.17,3.7],[4.166,3.1],[4.133,-2.8],[4.186,-4.2],[4.223,2.4],[4.281,4.3],[4.269,2.2],[4.264,1.6],[4.264,-3],[4.273,-4.8],[4.363,6.5],[4.42,6.5],[4.478,4.3],[4.379,0],[4.424,-1.2],[4.346,-2.2],[4.392,-4.6],[4.404,-5.4],[4.342,-6],[4.437,-7.4],
[3.054,19.4],[3.202,16.8],[3.309,16.4],[3.514,13.8],[3.395,11.7],[3.432,10.3],[3.481,11.1],[3.645,11.7],[3.899,12.1],[3.986,19.4],[3.108,8.5],[3.062,7.1],[3.173,7.9],[3.214,9.1],[3.354,9.1],[3.333,7.1],[3.571,9.1],[3.518,6.5],[3.624,8.5],[3.62,7.3],[3.641,7.7],[3.711,9.3],[3.784,8.1],[3.817,9.9],[3.846,10.1],[3.924,9.7],[3.542,3.3],[3.571,3.5],[3.641,0],[3.784,0],[3.805,0.8],[3.891,-0.6],[3.44,36.4],[3.522,23.3],[3.436,22.8],[3.452,20.4],[2.574,21.6],
];

const sanFranciscoRegion: number[][] = [
[2.335,4.9],[2.78,9.7],[2.927,17],[2.927,2.6],[3.009,10.3],[3.128,9.7],[3.157,8.1],[3.288,13.6],[3.514,14.8],[3.62,17.2],[3.522,11.1],[3.596,11.1],[3.686,9.9],[3.949,8.9],[3.514,7.3],[3.686,6.5],[3.501,4.1],[3.559,3.7],[3.579,2.2],[3.612,1.4],[3.772,3.5],[3.711,2.4],[3.961,4.3],[3.908,2.4],[3.075,0],[3.563,0],[3.895,-3.2],[4.006,-4.8],[4.055,-4.8],[3.567,-4.8],[3.559,-8.5],[4.334,-6.6],[4.42,-4.4],[4.149,-7.9],[4.166,-8.9],[4.154,-9.3],[4.244,-15.1],[4.387,-9.9],[4.424,-10.7],[4.404,-12.3],[4.494,-11.3],[4.478,-14.5],[4.49,-15.5],[4.683,-16.5],
];

const seriesNames = ["Other Regions", "New York region", "San Francisco Region"];
const seriesColors = ["#FFC012", "#C00000", "#00B0F0"];
const pointSizes = [3.6, 2.7, 2.7];
const xTickValues = [100, 1000, 10000, 100000];
const xAxisTitle = "Population Density per Square Mile (Axis on Log Scale)";

const toPoints = (rows: number[][]) => rows.map(([d, v]) => ({ x: Math.pow(10, d), y: v }));

function legendDot(color: string, r: number) {
  const c = document.createElement("canvas");
  c.width = 10;
  c.height = 10;
  const g = c.getContext("2d")!;
  g.fillStyle = color;
  g.beginPath();
  g.arc(5, 5, r, 0, Math.PI * 2);
  g.fill();
  return c;
}

export default function App() {
  const ref = useRef<HTMLCanvasElement>(null);
  useEffect(() => {
    const dots = seriesColors.map((c, i) => legendDot(c, pointSizes[i]));
    const legendPlace = {
      id: "legendPlace",
      afterLayout(chart: any) {
        if (chart.legend) {
          chart.legend.top = -39.7;
          chart.legend.left = 19;
        }
      },
    };
    const tick = { color: "#595959", font: { family: "Lato", size: 23.5 } };
    const chart = new Chart(ref.current!, {
      type: "scatter",
      plugins: [legendPlace],
      data: {
        datasets: [[...otherRegions, ...otherRegionsCore, ...otherRegionsLeft, ...otherRegionsSolid], newYorkRegion, sanFranciscoRegion].map((rows, i) => ({
          label: seriesNames[i],
          data: toPoints(rows),
          backgroundColor: seriesColors[i],
          borderWidth: 0,
          pointRadius: pointSizes[i],
          order: 3 - i,
        })),
      },
      options: {
        animation: false,
        responsive: false,
        layout: { padding: 0 },
        plugins: {
          tooltip: { enabled: false },
          legend: {
            position: "top",
            align: "start",
            maxHeight: 54.5,
            labels: {
              usePointStyle: true,
              pointStyleWidth: 2,
              padding: 49,
              color: "#595959",
              font: { family: "Lato", size: 25.4 },
              generateLabels: () =>
                seriesNames.map((text, i) => ({
                  text,
                  pointStyle: dots[i],
                  fillStyle: seriesColors[i],
                  strokeStyle: seriesColors[i],
                  fontColor: "#595959",
                  lineWidth: 0,
                  datasetIndex: i,
                })),
            },
          },
        },
        scales: {
          x: {
            type: "logarithmic",
            min: 100,
            max: 145000,
            afterBuildTicks(s: any) {
              s.ticks = xTickValues.map((value) => ({ value, major: true }));
            },
            afterFit(s: any) {
              s.height = 77.5;
            },
            grid: { color: "#D9D9D9", lineWidth: 2, drawTicks: false },
            border: { color: "#BFBFBF", width: 2 },
            ticks: {
              color: "#595959",
              font: { family: "Lato", size: 23.5, lineHeight: 1.45 },
              padding: 11,
              autoSkip: false,
              maxRotation: 0,
              callback: (v: any) => String(v),
            },
            title: {
              display: true,
              text: xAxisTitle,
              color: "#595959",
              font: { family: "Lato", size: 25, style: "italic", lineHeight: 1.05 },
              padding: 0,
            },
          },
          y: {
            min: -20,
            max: 60,
            afterFit(s: any) {
              s.width = 87;
            },
            grid: { color: "#D9D9D9", lineWidth: 2, drawTicks: false },
            border: { color: "#BFBFBF", width: 2 },
            ticks: {
              ...tick,
              padding: 25,
              stepSize: 10,
              callback: (v: any) => v + "%",
            },
          },
        },
      },
    } as any);
    return () => chart.destroy();
  }, []);
  return (
    <div style={{ position: "fixed", left: 0, top: 0, width: 1115, height: 660, overflow: "hidden", background: "#fff" }}>
      <canvas ref={ref} width={1119} height={660} style={{ display: "block" }} />
    </div>
  );
}
